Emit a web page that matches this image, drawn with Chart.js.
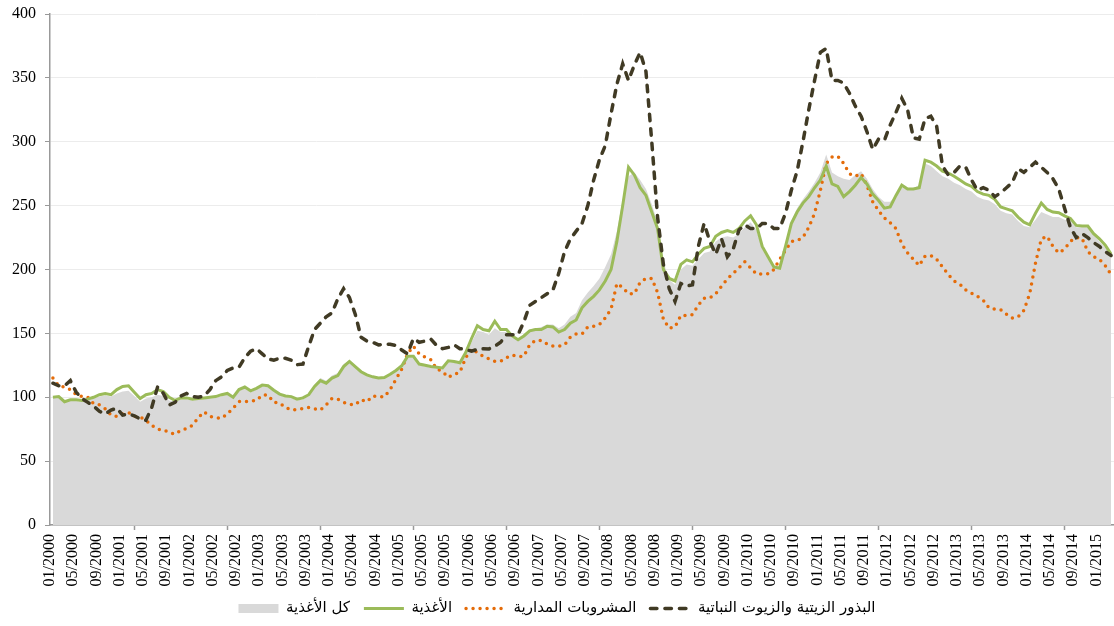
<!DOCTYPE html>
<html lang="ar">
<head>
<meta charset="utf-8">
<title>مؤشرات أسعار الأغذية</title>
<script src="https://cdn.jsdelivr.net/npm/chart.js@4.4.1/dist/chart.umd.min.js"></script>
<style>
  html, body { margin: 0; padding: 0; background: #fff; }
  #wrap { width: 1114px; height: 626px; }
</style>
</head>
<body>
<div id="wrap"><canvas id="foodChart" width="1114" height="626"></canvas></div>
<script>
// --- data (monthly, 01/2000 .. 03/2015) ---
const months = [];
for (let y = 2000; y <= 2015; y++) {
  for (let m = 1; m <= 12; m++) months.push(String(m).padStart(2, '0') + '/' + y);
}
const labels = months.slice(0, 183);

const seriesNames = ['كل الأغذية', 'الأغذية', 'المشروبات المدارية', 'البذور الزيتية والزيوت النباتية'];
const yTicks = [0, 50, 100, 150, 200, 250, 300, 350, 400];

// كل الأغذية (gray area)
const allFood = [
  99, 99.5, 96, 97, 97, 96.5, 97.5, 99, 100.5, 101.5, 100.5, 103,
  104.5, 105, 101, 96.5, 99, 100, 102, 101, 97.5, 96.5, 98.5, 98.5,
  97.5, 98, 98.5, 99, 99.5, 101, 102, 99, 105, 107, 104, 106,
  108.5, 108, 104.5, 101.5, 100, 99.5, 97.5, 98.5, 101, 110, 115, 113,
  117, 119, 126, 129, 125, 120, 117, 115.5, 114.5, 115, 117.5, 120.5,
  124, 131, 131, 125, 124, 123, 122.5, 122, 127.5, 127, 126, 133,
  143, 152, 151, 149, 154, 151, 151, 147, 145, 149, 153, 154,
  155, 157, 157, 154, 157, 163, 166, 176, 182, 187, 193, 202,
  212, 230, 255, 273, 276, 270, 263, 251, 237, 206, 192, 188,
  200, 204, 203, 208, 213, 214, 222, 225, 226, 225, 228, 233,
  237, 231, 216, 209, 203, 203, 220, 238, 248, 255, 261, 268,
  276, 290, 276, 273, 271, 270, 274, 277, 271, 263, 257, 253,
  253, 258, 264, 263, 264, 266, 283, 281, 277, 273, 271, 268,
  266, 263, 261, 257, 255, 254, 251, 246, 244, 243, 238, 234,
  233, 239, 245, 243, 241, 241, 239, 238, 233, 233, 233, 227,
  222, 217, 210
];

// الأغذية (green line)
const food = [
  100, 100.5, 96.5, 98, 98, 97.5, 98.5, 100, 102, 103, 102, 106,
  108.5, 109, 104, 99, 102, 103, 106, 104.5, 100, 97.5, 99.5, 99.5,
  98.5, 99, 99.5, 100, 100.5, 102, 103, 100, 106, 108, 105, 107,
  109.5, 109, 105.5, 102.5, 101, 100.5, 98.5, 99.5, 102, 108.5, 113, 111,
  115, 117, 124, 128, 124, 120, 117.5, 116, 115, 115.5, 118, 121,
  124.7, 132, 132, 126, 125, 124, 123.5, 123, 128.5, 128, 127, 135,
  146, 156, 153, 152, 159.5, 153, 153, 148, 145, 148, 152, 153,
  153, 155.5, 155, 151, 153, 158, 160.5, 170, 175, 179, 184, 191,
  200, 222, 250, 280, 274, 264, 258, 245, 232, 200, 193, 191,
  204, 207.5, 206, 212, 216.5, 218, 226, 229, 230.5, 229, 232, 238,
  242, 235, 218, 210, 202, 201, 218, 236, 245, 252, 257, 264,
  270, 281, 267, 265, 257, 261, 266, 272, 267, 259, 254, 248,
  249, 258, 266, 263, 263, 264, 285.5, 284, 281, 277, 275.5, 273,
  270, 267, 265, 261, 259, 258, 255, 249, 247.5, 246, 241, 237,
  235, 244, 252, 247, 245, 244.5, 242, 240, 234.5, 234, 234, 228,
  224, 219, 212
];

// المشروبات المدارية (orange dots)
const beverages = [
  115, 109, 108, 106, 102, 100.5, 100, 95, 94, 91, 86, 85,
  87, 88, 85, 84.5, 82, 78, 75, 74.5, 72.5, 71, 74, 75.5,
  78, 84, 88.5, 85, 84, 83.5, 87, 91.5, 96.6, 96.6, 97, 97.5,
  101.7, 101.7, 96, 95.5, 92, 90, 90.5, 91.2, 92, 91, 90, 94,
  99, 98.5, 96, 94.5, 94, 98, 96.5, 101, 100.6, 100.3, 106, 114,
  122, 134, 140, 134, 131.5, 129.4, 122, 120.3, 115.6, 118, 119.5, 131,
  137.8, 135, 132, 130, 128.1, 128.1, 131, 133, 131.8, 132, 141, 144.5,
  144.5, 141.7, 140, 140, 141, 147, 149.5, 149.5, 155, 155.5, 156.9, 162,
  169, 189, 186, 181, 181, 190, 193, 193, 182, 161, 154, 155,
  164, 164, 164.7, 172, 177.5, 177.7, 181, 187, 192.7, 197, 201.3, 206,
  201.3, 196.5, 196.6, 196.6, 200, 208, 215, 222, 222.7, 225, 233, 244,
  262, 283, 288, 288.7, 283, 275, 273, 275, 266, 253, 246, 240.3,
  236.6, 232, 220, 213, 208, 203, 210.5, 211, 208, 202, 196, 191,
  188.5, 184, 181.5, 179, 176, 170, 169, 168.6, 165, 162, 163, 168,
  181, 205, 224, 226, 218, 213, 216, 222, 225, 224.5, 214, 210,
  208, 203, 196
];

// البذور الزيتية والزيوت النباتية (dark dashed)
const oilseeds = [
  111, 109, 109, 113, 104, 99, 96, 93, 89, 87, 90, 91.5,
  86, 87, 85.5, 83, 82, 92, 108, 103, 94, 96, 101, 103,
  100.5, 100, 101, 106, 113, 116, 121, 123, 123.5, 131, 136, 138,
  134, 130, 129, 130.5, 130.5, 129, 125.5, 126, 140, 153, 158, 163,
  166, 177, 185, 178, 165, 147, 144, 143, 141, 141.5, 141.5, 140.5,
  137, 134, 146, 143, 144, 145.5, 140.5, 138, 139, 141, 138, 137.5,
  136, 137.5, 138, 137.8, 140, 143, 149, 149, 149, 159, 172, 175,
  178, 181, 184, 197, 214, 224, 230, 236, 250, 270, 286, 297,
  322, 345, 361, 348, 360, 370, 355, 300, 241, 204, 185, 175,
  189, 187, 188, 218, 236, 222, 212, 224, 210, 216, 231, 235,
  232, 232, 236, 236, 232, 232, 244, 262, 277, 300, 325, 348,
  370, 373, 348, 348, 346, 338, 328, 320, 308, 294, 302, 301,
  313, 323, 334, 325, 303, 302, 318, 320, 312, 281, 274, 276,
  281, 280, 270, 262, 264, 262, 257, 260, 264, 268, 279, 276,
  280, 284, 280, 276, 271, 263, 248, 233, 225, 228, 225, 221,
  218, 214, 211
];

const serif = "'Liberation Serif', 'Times New Roman', serif";
const arabic = "'DejaVu Sans', 'Noto Sans', sans-serif";

const legendItems = [
  { text: seriesNames[0], fillStyle: '#d9d9d9', strokeStyle: '#d9d9d9', lineWidth: 0, pointStyle: 'rect', datasetIndex: 0 },
  { text: seriesNames[1], fillStyle: 'rgba(0,0,0,0)', strokeStyle: '#9bbb59', lineWidth: 3, pointStyle: 'line', datasetIndex: 1 },
  { text: seriesNames[2], fillStyle: 'rgba(0,0,0,0)', strokeStyle: '#e46c0a', lineWidth: 3.5, lineDash: [0, 7], lineCap: 'round', pointStyle: 'line', datasetIndex: 2 },
  { text: seriesNames[3], fillStyle: 'rgba(0,0,0,0)', strokeStyle: '#403a24', lineWidth: 3.5, lineDash: [6.5, 8], lineCap: 'round', pointStyle: 'line', datasetIndex: 3 }
];

new Chart(document.getElementById('foodChart'), {
  type: 'line',
  data: {
    labels: labels,
    datasets: [
      { label: seriesNames[0], data: allFood, fill: 'origin', backgroundColor: '#d9d9d9', borderWidth: 0, pointRadius: 0, order: 4 },
      { label: seriesNames[1], data: food, fill: false, borderColor: '#9bbb59', borderWidth: 3, pointRadius: 0, order: 2 },
      { label: seriesNames[2], data: beverages, fill: false, borderColor: '#e46c0a', borderWidth: 3.5,
        borderDash: [0, 7], borderCapStyle: 'round', pointRadius: 0, order: 3 },
      { label: seriesNames[3], data: oilseeds, fill: false, borderColor: '#403a24', borderWidth: 3.5,
        borderDash: [6.5, 8], borderCapStyle: 'round', pointRadius: 0, order: 1 }
    ]
  },
  options: {
    responsive: false,
    animation: false,
    layout: { padding: { top: 14, left: 0, right: 0, bottom: 0 } },
    elements: { line: { tension: 0 } },
    plugins: {
      tooltip: { enabled: false },
      legend: {
        position: 'bottom',
        labels: {
          usePointStyle: true,
          pointStyleWidth: 40,
          boxHeight: 9,
          padding: 14,
          color: '#000',
          font: { family: arabic, size: 15 },
          generateLabels: () => legendItems
        }
      }
    },
    scales: {
      x: {
        offset: true,
        border: { color: '#999', width: 1.5 },
        grid: {
          offset: true,
          drawOnChartArea: false,
          drawTicks: true,
          tickLength: 5,
          tickWidth: 1.5,
          tickColor: ctx => (ctx.index % 4 === 0 ? '#999' : 'rgba(0,0,0,0)')
        },
        ticks: {
          autoSkip: false,
          maxRotation: 90,
          minRotation: 90,
          padding: 4,
          labelOffset: -3,
          color: '#000',
          font: { family: serif, size: 16 },
          callback: function (v, i) { return i % 4 === 0 ? this.getLabelForValue(v) : null; }
        },
        afterFit: s => { s.height = 62; s.paddingRight = 0; s.paddingLeft = 0; }
      },
      y: {
        min: 0,
        max: 400,
        afterBuildTicks: s => { s.ticks = yTicks.map(v => ({ value: v })); },
        border: { color: '#999', width: 1.5 },
        grid: { color: '#ececec', lineWidth: 1, tickLength: 5, tickColor: '#999' },
        ticks: { padding: 9, color: '#000', font: { family: serif, size: 16 } },
        afterFit: s => { s.width = 50; s.paddingTop = 0; s.paddingBottom = 0; }
      }
    }
  }
});
</script>
</body>
</html>
